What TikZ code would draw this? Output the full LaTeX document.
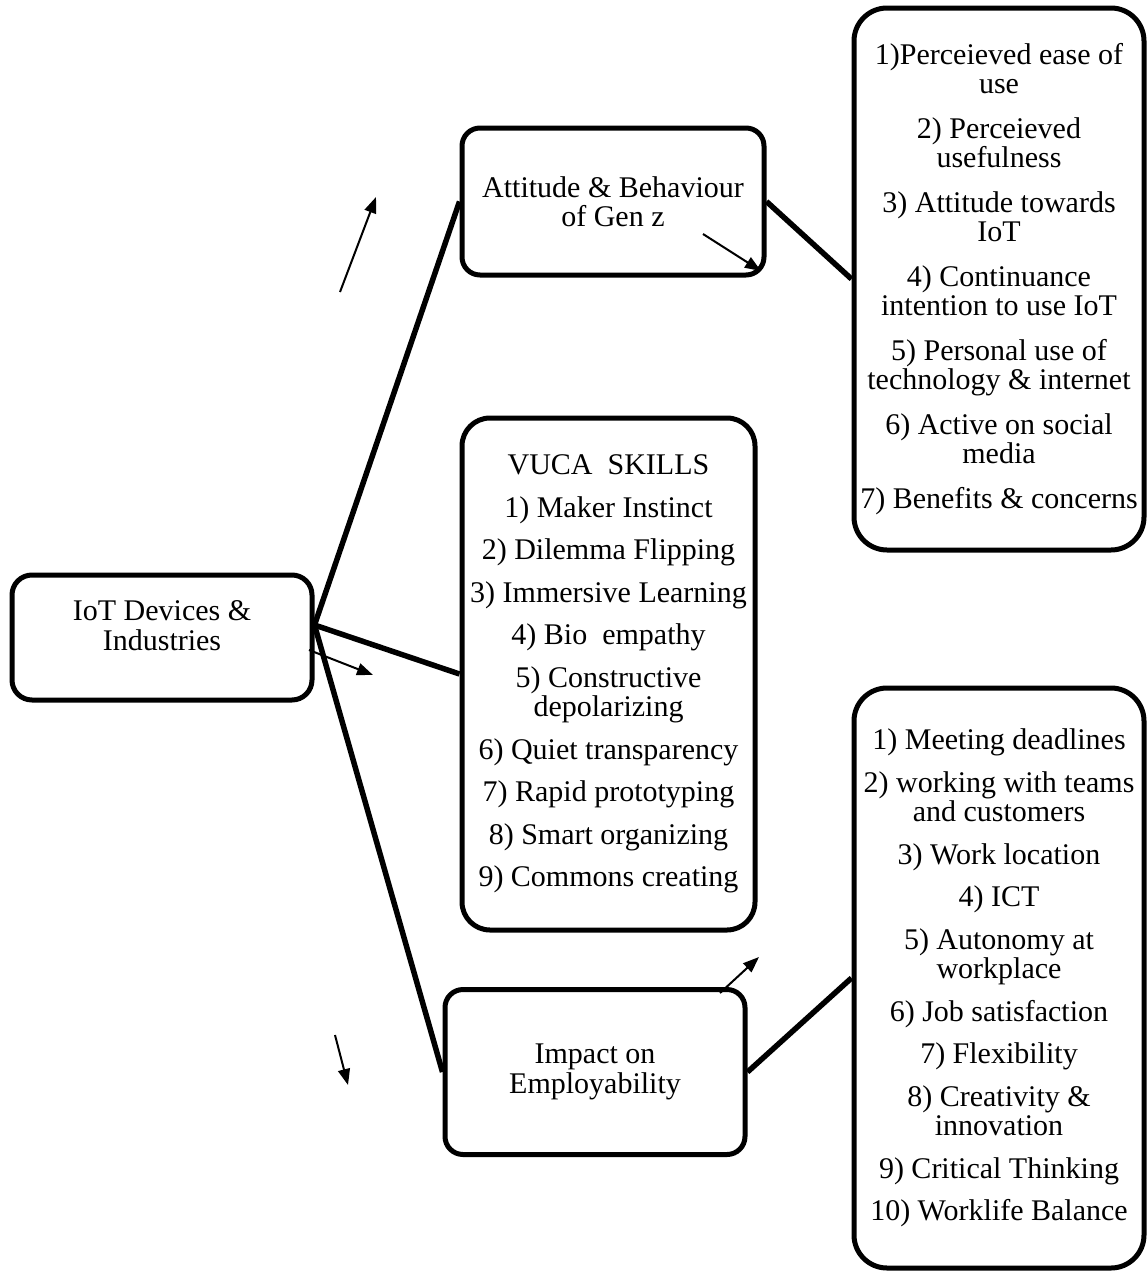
\documentclass[tikz,border=0pt]{standalone}
\usepackage{fontspec}
\setmainfont{Liberation Serif}
\usetikzlibrary{arrows.meta}
\begin{document}
\begin{tikzpicture}[x=1pt,y=-1pt,
  box/.style={draw, line width=5pt, rounded corners=#1, inner sep=0pt, align=center,
    font=\fontsize{30}{29.5}\selectfont},
  box/.default=20pt,
  conn/.style={line width=5.5pt},
  thinarrow/.style={line width=2pt, -{Triangle[length=16pt,width=12pt]}}]
\useasboundingbox (0,0) rectangle (1147,1272);

\node[box=20pt, minimum width=300pt, minimum height=125pt, text depth=24pt] (iot) at (162,637.5)
  {IoT Devices \&\\Industries};
\node[box=18pt, minimum width=302pt, minimum height=147pt] (att) at (613,201.5)
  {Attitude \& Behaviour\\of Gen z};
\node[box=28pt, minimum width=293pt, minimum height=512pt] (vuca) at (608.5,674)
  {VUCA~~SKILLS\\[13pt]1) Maker Instinct\\[13pt]2) Dilemma Flipping\\[13pt]3) Immersive Learning\\[13pt]4) Bio~~empathy\\[13pt]5) Constructive\\depolarizing\\[13pt]6) Quiet transparency\\[13pt]7) Rapid prototyping\\[13pt]8) Smart organizing\\[13pt]9) Commons creating};
\node[box=18pt, minimum width=300pt, minimum height=165pt] (imp) at (595,1072)
  {Impact on\\Employability};
\node[box=33pt, minimum width=290pt, minimum height=542pt] (r1) at (999,279)
  {1)Perceieved ease of\\use\\[15pt]2) Perceieved\\usefulness\\[15pt]3) Attitude towards\\IoT\\[15pt]4) Continuance\\intention to use IoT\\[15pt]5) Personal use of\\technology \& internet\\[15pt]6) Active on social\\media\\[15pt]7) Benefits \& concerns};
\node[box=33pt, minimum width=290pt, minimum height=580pt] (r2) at (999,978)
  {1) Meeting deadlines\\[13pt]2) working with teams\\and customers\\[13pt]3) Work location\\[13pt]4) ICT\\[13pt]5) Autonomy at\\workplace\\[13pt]6) Job satisfaction\\[13pt]7) Flexibility\\[13pt]8) Creativity \&\\innovation\\[13pt]9) Critical Thinking\\[13pt]10) Worklife Balance};

\draw[conn] ([yshift=12.5pt]iot.east) -- (att.west);
\draw[conn] ([yshift=12.5pt]iot.east) -- (vuca.west);
\draw[conn] ([yshift=12.5pt]iot.east) -- (imp.west);
\draw[conn] (att.east) -- (r1.west);
\draw[conn] (imp.east) -- (r2.west);

\coordinate (a1s) at (340,292); \coordinate (a1e) at (376,197);
\coordinate (a2s) at (703,234); \coordinate (a2e) at (761,271);
\coordinate (a3s) at (309,650); \coordinate (a3e) at (373,675);
\coordinate (a4s) at (335,1035); \coordinate (a4e) at (348,1085);
\coordinate (a5s) at (720,993); \coordinate (a5e) at (759,957);
\draw[thinarrow] (a1s) -- (a1e);
\draw[thinarrow] (a2s) -- (a2e);
\draw[thinarrow] (a3s) -- (a3e);
\draw[thinarrow] (a4s) -- (a4e);
\draw[thinarrow] (a5s) -- (a5e);
\end{tikzpicture}
\end{document}
